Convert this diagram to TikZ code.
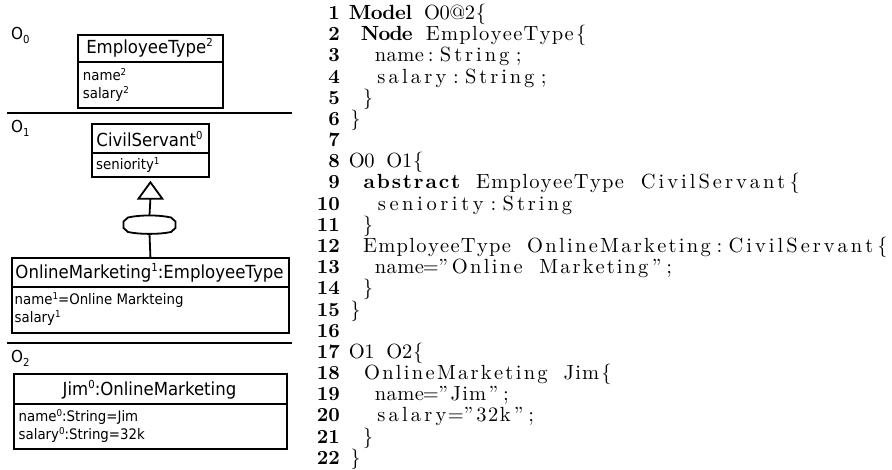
\documentclass[tikz,border=0pt]{standalone}
\usepackage{fontspec}
\usetikzlibrary{arrows.meta}
\setmainfont{lmroman10-regular}[Extension=.otf, BoldFont=lmroman10-bold]
\newfontfamily\umlfont[FakeStretch=0.92]{DejaVu Sans}

\ExplSyntaxOn
\dim_new:N \g_rs_cw_dim
\dim_gset:Nn \g_rs_cw_dim {12.55pt}
\tl_new:N \l_rs_unit_tl
\int_new:N \l_rs_unit_int
\cs_new_protected:Npn \rs_flush:
  {
    \int_compare:nNnT { \l_rs_unit_int } > { 0 }
      {
        \hbox_to_wd:nn { \g_rs_cw_dim * \l_rs_unit_int } { \hss \l_rs_unit_tl }
      }
    \tl_clear:N \l_rs_unit_tl
    \int_zero:N \l_rs_unit_int
  }
\cs_new_protected:Npn \rs_other:n #1
  {
    \hbox_to_wd:nn { \g_rs_cw_dim }
      {
        \hss
        \str_case:nnF {#1}
          {
            { < } { \{ }
            { > } { \} }
            { " } { ” }
            { _ } { }
          }
          { #1 }
        \hss
      }
  }
\cs_new_protected:Npn \rs_code:n #1
  {
    \str_map_inline:nn {#1}
      {
        \str_if_in:nnTF { abcdefghijklmnopqrstuvwxyzABCDEFGHIJKLMNOPQRSTUVWXYZ0123456789@ } {##1}
          {
            \tl_put_right:Nn \l_rs_unit_tl { ##1 \hss }
            \int_incr:N \l_rs_unit_int
          }
          {
            \rs_flush:
            \rs_other:n {##1}
          }
      }
    \rs_flush:
  }
\NewDocumentCommand \rscode { m } { \rs_code:n {#1} }
\ExplSyntaxOff

\newcommand\hsup[1]{\raisebox{6.5pt}{\fontsize{11}{11}\selectfont#1}}
\newcommand\asup[1]{\raisebox{5pt}{\fontsize{9.5}{10}\selectfont#1}}
\newcommand\lsub[1]{\raisebox{-4pt}{\fontsize{11}{11}\selectfont#1}}

\newcommand\codeln[4]{%
  \node[codeline] (c#1) at (349,{19.5+(#1-1)*21.18}) {\rscode{#2}{\bfseries\rscode{#3}}\rscode{#4}};
  \node[codenum] (n#1) at (340,{19.5+(#1-1)*21.18}) {#1};
}
\newcommand\numln[1]{%
  \node[codenum] (n#1) at (340,{19.5+(#1-1)*21.18}) {#1};
}

\tikzset{
  codeline/.style={anchor=base west, inner sep=0pt, font=\fontsize{20.5}{21}\selectfont},
  codenum/.style={anchor=base east, inner sep=0pt, font=\fontsize{20}{21}\selectfont\bfseries},
  umlbox/.style={draw, line width=1.8pt, inner sep=0pt, anchor=north west},
  headtxt/.style={anchor=base, inner sep=0pt, font=\umlfont\fontsize{18}{20}\selectfont},
  attrtxt/.style={anchor=base west, inner sep=0pt, font=\umlfont\fontsize{14.5}{16}\selectfont},
  layertxt/.style={anchor=base west, inner sep=0pt, font=\umlfont\fontsize{16.5}{18}\selectfont},
  sepline/.style={line width=2pt},
  genline/.style={line width=1.8pt, line join=miter},
}

\begin{document}
\begin{tikzpicture}[x=1pt,y=-1pt]
\useasboundingbox (0,0) rectangle (892,470);

% layer labels and separators
\node[layertxt] (L0) at (11,40) {O\lsub{0}};
\node[layertxt] (L1) at (11,133) {O\lsub{1}};
\node[layertxt] (L2) at (11,362.5) {O\lsub{2}};
\draw[sepline] (7,113.3) -- (292,113.3);
\draw[sepline] (7,342.7) -- (292,342.7);

% EmployeeType
\node[umlbox, minimum width=145pt, minimum height=27pt] (etH) at (77,34) {};
\node[umlbox, minimum width=145pt, minimum height=46pt] (etA) at (77,61) {};
\node[headtxt] (etT) at (149.5,53.5) {EmployeeType\hsup{2}};
\node[attrtxt] (etA1) at (82.7,80.5) {name\asup{2}};
\node[attrtxt] (etA2) at (82.7,99) {salary\asup{2}};

% CivilServant
\node[umlbox, minimum width=117pt, minimum height=29pt] (csH) at (91,123) {};
\node[umlbox, minimum width=117pt, minimum height=24pt] (csA) at (91,152) {};
\node[headtxt] (csT) at (149.5,146.5) {CivilServant\hsup{0}};
\node[attrtxt] (csA1) at (96,169.5) {seniority\asup{1}};

% OnlineMarketing
\node[umlbox, minimum width=277pt, minimum height=29pt] (omH) at (11,257) {};
\node[umlbox, minimum width=277pt, minimum height=46pt] (omA) at (11,286) {};
\node[headtxt] (omT) at (149.5,278.5) {OnlineMarketing\hsup{1}:EmployeeType};
\node[attrtxt] (omA1) at (14.5,304.5) {name\asup{1}=Online Markteing};
\node[attrtxt] (omA2) at (14.5,322.5) {salary\asup{1}};

% Jim
\node[umlbox, minimum width=273pt, minimum height=30pt] (jmH) at (13,373) {};
\node[umlbox, minimum width=273pt, minimum height=45pt] (jmA) at (13,403) {};
\node[headtxt] (jmT) at (149.5,395.5) {Jim\hsup{0}:OnlineMarketing};
\node[attrtxt] (jmA1) at (18.5,421) {name\asup{0}:String=Jim};
\node[attrtxt] (jmA2) at (18.5,439) {salary\asup{0}:String=32k};

% generalization: open triangle, barrel shape, lines
\path (csA.south) ++(0,4.5) coordinate (tapex);
\path (tapex) ++(0,16.5) coordinate (tbase);
\draw[genline] (tapex) -- ++(12,16.5) -- ++(-24,0) -- cycle;
\node[inner sep=0pt, minimum width=52pt, minimum height=18pt] (hx) at (149.5,224.5) {};
\draw[genline, shift={(hx.center)}] (-26,-3) -- (-21.5,-7) .. controls (-10,-9.7) and (10,-9.7) .. (21.5,-7) -- (26,-3) -- (26,3.5) -- (21.5,7.5) .. controls (10,10) and (-10,10) .. (-21.5,7.5) -- (-26,3.5) -- cycle;
\draw[genline] (hx.north) -- (tbase);
\draw[genline] (hx.south) -- (omH.north);

% code listing
\codeln{1}{}{Model}{_O0@2<}
\codeln{2}{_}{Node}{_EmployeeType<}
\codeln{3}{__name:String;}{}{}
\codeln{4}{__salary:String;}{}{}
\codeln{5}{_>}{}{}
\codeln{6}{>}{}{}
\numln{7}
\codeln{8}{O0_O1<}{}{}
\codeln{9}{_}{abstract}{_EmployeeType_CivilServant<}
\codeln{10}{__seniority:String}{}{}
\codeln{11}{_>}{}{}
\codeln{12}{_EmployeeType_OnlineMarketing:CivilServant<}{}{}
\codeln{13}{__name="Online_Marketing";}{}{}
\codeln{14}{_>}{}{}
\codeln{15}{>}{}{}
\numln{16}
\codeln{17}{O1_O2<}{}{}
\codeln{18}{_OnlineMarketing_Jim<}{}{}
\codeln{19}{__name="Jim";}{}{}
\codeln{20}{__salary="32k";}{}{}
\codeln{21}{_>}{}{}
\codeln{22}{>}{}{}
\end{tikzpicture}
\end{document}
